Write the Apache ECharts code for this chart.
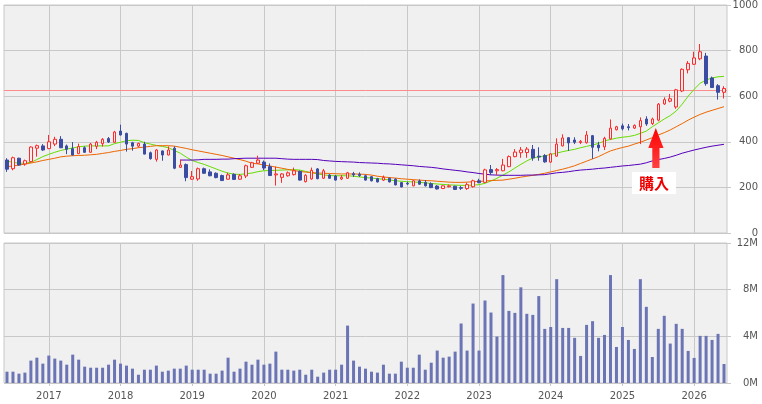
<!DOCTYPE html>
<html>
<head>
<meta charset="utf-8">
<script src="https://cdn.jsdelivr.net/npm/echarts@6.0.0/dist/echarts.min.js"></script>
<style>
  html, body { margin: 0; background: #fff; }
  #chart { width: 762px; height: 404px; }
</style>
</head>
<body>
<div id="chart"></div>
<script>
// monthly bars, 2016-06 .. 2026-06
const months = []
for (let y = 2016, m = 6; months.length < 121; m++) {
  if (m > 12) { m = 1; y++ }
  months.push(`${y}-${String(m).padStart(2, '0')}`)
}

const opens = [320,282,328,303,313,372,382,370,390,411,382,370,348,374,354,380,392,414,398,447,
  437,396,381,390,352,323,360,342,372,288,300,236,237,282,268,262,252,236,257,236,
  250,288,306,311,291,255,244,251,256,270,225,237,281,240,254,250,237,240,260,258,
  251,247,238,232,240,236,221,218,207,228,222,216,206,195,203,205,199,195,203,229,
  222,278,273,273,291,335,352,353,367,337,340,311,337,382,418,408,397,396,427,386,
  378,413,453,470,466,460,466,500,480,495,566,578,553,623,716,740,764,776,680,646,617]
const closes = [280,330,298,317,377,383,364,400,411,374,367,342,379,354,390,398,411,399,443,430,
  390,381,393,346,326,364,342,364,284,298,243,247,282,262,251,243,230,255,235,251,
  295,308,320,285,252,259,259,264,273,232,253,275,238,273,240,232,244,264,255,252,
  232,229,224,244,224,211,202,215,229,214,207,199,193,207,207,191,196,212,229,221,
  277,265,278,298,335,355,364,368,329,333,312,347,390,417,395,398,402,430,376,374,
  415,460,466,457,462,472,493,478,500,565,585,589,628,718,744,768,795,655,638,617,634]
const lows = [268,275,295,295,310,335,360,368,381,372,346,340,346,352,352,368,379,395,396,428,
  357,361,375,345,322,313,317,341,280,286,227,233,229,260,249,240,228,234,233,234,
  241,285,303,276,250,208,220,247,252,230,222,234,236,237,238,230,232,238,246,246,
  230,226,222,228,222,209,200,210,205,212,204,197,191,193,200,189,189,189,199,218,
  219,254,254,271,289,332,330,330,317,317,308,308,335,380,360,390,390,392,325,358,
  364,410,450,450,450,456,390,470,474,490,562,573,545,618,700,737,758,646,636,585,590]
const highs = [328,335,330,322,380,388,390,430,422,425,388,399,392,380,395,404,416,421,448,475,
  440,400,396,400,357,368,362,380,380,322,305,272,287,287,279,266,256,264,262,258,
  300,312,339,318,305,291,262,270,287,274,258,287,285,281,259,254,254,268,268,266,
  256,250,242,252,243,240,224,225,232,235,232,222,210,209,212,207,206,220,234,238,
  282,298,285,325,340,368,377,377,386,376,346,350,415,433,420,420,408,447,430,400,
  422,498,470,480,478,476,507,512,506,570,595,610,632,722,754,795,829,790,686,653,644]

const maShort = [315,310,306,306,310,322,335,345,354,362,368,373,378,381,382,382,382,382,392,398,
  405,407,406,396,390,384,380,374,362,350,333,318,309,301,291,281,271,263,258,257,
  260,263,269,273,274,275,276,277,278,276,270,264,259,255,252,251,251,251,249,246,
  243,241,238,236,233,229,227,225,224,222,220,217,215,213,211,210,209,209,210,212,
  218,228,240,254,268,285,301,316,329,334,338,345,350,357,362,367,374,380,386,393,
  404,410,416,420,423,428,437,447,466,483,500,515,535,565,600,630,657,671,680,685,687]
const maMid = [291,294,298,302,307,312,318,323,328,334,337,339,340,341,343,345,349,353,358,362,
  367,370,374,377,380,383,383,383,381,376,371,365,360,355,350,345,340,334,328,322,
  315,306,303,298,294,289,284,279,274,270,267,265,263,262,261,260,259,259,259,258,
  257,254,249,246,243,241,238,236,234,232,230,229,227,225,223,222,222,223,225,226,
  228,230,231,232,236,240,245,249,253,257,262,268,274,280,287,295,305,315,325,335,
  348,360,368,375,381,390,398,408,418,430,440,452,466,480,495,508,520,530,538,546,554]
const maLong = ['-','-','-','-','-','-','-','-','-','-','-','-','-','-','-','-','-','-','-','-',
  '-','-','-','-','-','-','-','-','-',320,320,320,321,323,323,323,324,324,326,327,
  328,328,328,328,328,328,326,324,323,323,323,323,322,318,316,314,313,312,311,309,
  308,307,306,304,303,301,299,297,295,292,290,288,285,281,278,275,272,268,265,261,
  258,255,254,253,253,253,253,254,254,255,256,260,264,266,269,273,276,278,280,283,
  285,288,291,294,296,299,302,308,316,322,327,333,341,350,357,364,370,376,381,385,389]

// volume in millions of shares
const volumes = [0.97,0.97,0.80,0.89,1.92,2.17,1.66,2.35,2.09,1.92,1.57,2.43,2.0,1.40,1.31,1.31,1.31,1.57,2.0,1.66,
  1.49,1.23,0.71,1.14,1.14,1.49,0.97,1.06,1.23,1.23,1.49,1.14,1.14,1.14,0.80,0.80,1.06,2.17,0.97,1.23,
  1.83,1.57,2.0,1.57,1.66,2.69,1.14,1.14,1.06,1.14,0.71,1.14,0.54,0.89,1.14,1.14,1.57,4.92,1.92,1.40,
  1.23,0.97,0.89,1.57,0.80,0.80,1.83,1.31,1.31,2.43,1.14,1.74,2.78,2.17,2.26,2.69,5.10,2.78,6.81,2.78,
  7.07,6.04,3.98,9.25,6.18,6.01,8.2,5.93,5.84,7.45,4.64,4.8,8.9,4.72,4.72,3.87,2.32,4.98,5.3,3.87,
  4.12,9.25,3.09,4.8,3.69,2.92,8.9,6.53,2.23,4.64,5.76,3.38,5.07,4.64,2.75,2.15,4.04,4.04,3.69,4.21,1.63]

const yPriceTicks = [0, 1000, 200]
const yVolTicks = [0, 12, 4]
const targetPrice = 627

const GRID_LINE = '#c8c8c8'
const LABEL = { color: '#555', fontFamily: 'DejaVu Sans', fontSize: 10 }
const isJan = (idx) => months[idx].endsWith('-01')
const januaries = months.filter((m) => m.endsWith('-01'))

const chart = echarts.init(document.getElementById('chart'), null, { renderer: 'canvas' })

function xAxisFor(gridIndex, withLabels) {
  return {
    type: 'category',
    gridIndex,
    data: months,
    boundaryGap: true,
    axisLine: { show: false },
    axisTick: {
      show: withLabels,
      interval: (i) => isJan(i),
      alignWithLabel: true,
      length: 3,
      lineStyle: { color: GRID_LINE },
    },
    axisLabel: {
      show: withLabels,
      interval: (i) => isJan(i),
      formatter: (v) => v.slice(0, 4),
      margin: 8,
      ...LABEL,
    },
    splitLine: { show: false },
  }
}

function yAxisFor(gridIndex, ticks, fmt) {
  return {
    type: 'value',
    gridIndex,
    position: 'right',
    min: ticks[0],
    max: ticks[1],
    interval: ticks[2],
    axisLine: { show: false },
    axisTick: { show: true, length: 4, lineStyle: { color: GRID_LINE } },
    axisLabel: { align: 'right', margin: 31, formatter: fmt, ...LABEL },
    splitLine: { lineStyle: { color: GRID_LINE, width: 1 } },
  }
}

// year gridlines drawn behind the marks
const yearLines = (axisIndex) => ({
  type: 'line',
  xAxisIndex: axisIndex,
  yAxisIndex: axisIndex,
  data: [],
  silent: true,
  z: 1,
  markLine: {
    silent: true,
    z: 1,
    symbol: 'none',
    label: { show: false },
    lineStyle: { color: GRID_LINE, width: 1, type: 'solid' },
    data: januaries.map((m) => ({ xAxis: m })),
  },
})

const lineSeries = (name, data, color) => ({
  name,
  type: 'line',
  xAxisIndex: 0,
  yAxisIndex: 0,
  data,
  symbol: 'none',
  smooth: false,
  lineStyle: { color, width: 1 },
  z: 3,
})

chart.setOption({
  animation: false,
  backgroundColor: '#fff',
  grid: [
    { left: 4, right: 35, top: 5, height: 228, show: true, backgroundColor: '#f0f0f0', borderColor: GRID_LINE, borderWidth: 1 },
    { left: 4, right: 35, top: 243, height: 140, show: true, backgroundColor: '#f0f0f0', borderColor: GRID_LINE, borderWidth: 1 },
  ],
  xAxis: [xAxisFor(0, false), xAxisFor(1, true)],
  yAxis: [
    yAxisFor(0, yPriceTicks, (v) => String(v)),
    yAxisFor(1, yVolTicks, (v) => v + 'M'),
  ],
  series: [
    yearLines(0),
    yearLines(1),
    {
      name: 'price',
      type: 'candlestick',
      xAxisIndex: 0,
      yAxisIndex: 0,
      data: months.map((_, i) => [opens[i], closes[i], lows[i], highs[i]]),
      barWidth: 3,
      itemStyle: {
        color: '#f0f0f0',
        color0: '#3b4ca3',
        borderColor: '#ff2a2a',
        borderColor0: '#3b4ca3',
        borderWidth: 1,
      },
      markLine: {
        silent: true,
        z: 2,
        symbol: 'none',
        label: { show: false },
        lineStyle: { color: '#ff8a8a', width: 1, type: 'solid' },
        data: [{ yAxis: targetPrice }],
      },
      z: 4,
    },
    lineSeries('ma short', maShort, '#66dd00'),
    lineSeries('ma mid', maMid, '#ee6600'),
    lineSeries('ma long', maLong, '#5500bb'),
    {
      name: 'volume',
      type: 'bar',
      xAxisIndex: 1,
      yAxisIndex: 1,
      data: volumes,
      barWidth: 3,
      itemStyle: { color: '#6b74b5' },
      z: 3,
    },
  ],
  graphic: [
    {
      type: 'polygon',
      shape: { points: [[655.8, 128], [663.5, 148], [659.5, 148], [659.5, 168], [652.3, 168], [652.3, 148], [648.3, 148]] },
      style: {
        fill: new echarts.graphic.LinearGradient(0, 0, 0, 1, [
          { offset: 0, color: '#ff0000' },
          { offset: 1, color: '#ff4040' },
        ]),
      },
      z: 10,
    },
    {
      type: 'rect',
      shape: { x: 632, y: 172, width: 44, height: 22 },
      style: { fill: '#ffffff' },
      z: 10,
    },
    {
      type: 'text',
      x: 654,
      y: 183,
      style: {
        text: '購入',
        fill: '#ee0000',
        font: 'bold 15px "Noto Sans CJK JP"',
        align: 'center',
        verticalAlign: 'middle',
      },
      z: 11,
    },
  ],
})
</script>
</body>
</html>
